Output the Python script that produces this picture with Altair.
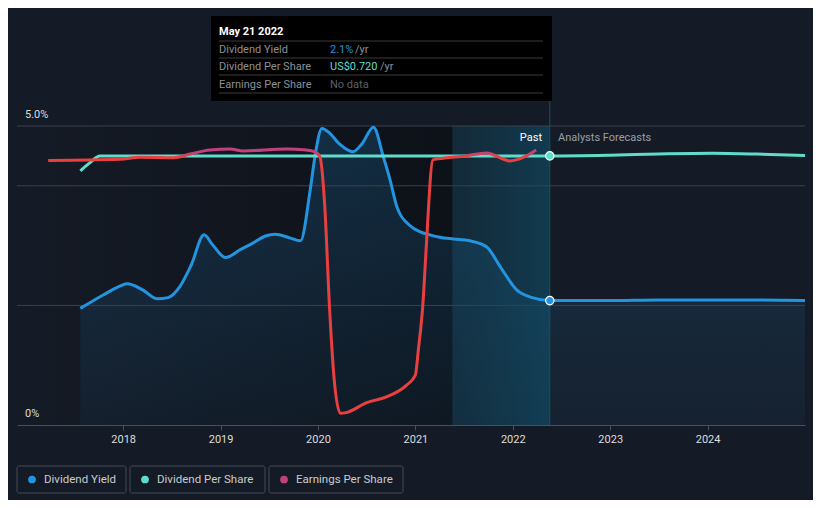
import altair as alt
import pandas as pd

# ---------------- data ----------------
yield_years = [2017.56, 2017.79, 2017.95, 2018.04, 2018.2, 2018.35, 2018.46, 2018.58, 2018.7,
               2018.83, 2018.92, 2019.05, 2019.2, 2019.34, 2019.46, 2019.56, 2019.71, 2019.82,
               2019.92, 2019.97, 2020.04, 2020.12, 2020.22, 2020.36, 2020.45, 2020.57, 2020.67,
               2020.74, 2020.81, 2020.94, 2021.05, 2021.15, 2021.25, 2021.39, 2021.56, 2021.73,
               2021.87, 2022.04, 2022.2, 2022.38, 2023.0, 2023.5, 2024.0, 2024.5, 2025.0]
yield_vals = [1.95, 2.17, 2.31, 2.36, 2.26, 2.11, 2.13, 2.31, 2.68,
              3.18, 3.01, 2.80, 2.93, 3.05, 3.16, 3.19, 3.13, 3.08,
              3.93, 4.5, 4.96, 4.88, 4.70, 4.57, 4.70, 4.98, 4.49,
              4.10, 3.65, 3.34, 3.23, 3.18, 3.14, 3.11, 3.08, 2.98,
              2.65, 2.26, 2.13, 2.08, 2.08, 2.09, 2.09, 2.09, 2.08]

dps_years = [2017.56, 2017.66, 2017.76, 2018.5, 2019.5, 2020.5, 2021.5, 2022.38, 2023.0, 2023.5, 2024.05, 2024.5, 2025.0]
dps_vals = [0.680, 0.702, 0.720, 0.720, 0.720, 0.720, 0.720, 0.720, 0.722, 0.725, 0.727, 0.725, 0.721]

eps_years = [2017.23, 2017.97, 2018.17, 2018.52, 2018.69, 2018.89, 2019.1, 2019.23, 2019.68, 2019.88,
             2019.97, 2020.02, 2020.07, 2020.12, 2020.17, 2020.23, 2020.29, 2020.5, 2020.71, 2020.91,
             2021.0, 2021.03, 2021.08, 2021.11, 2021.18, 2021.23, 2021.52, 2021.73, 2021.97, 2022.07, 2022.24]
eps_vals = [2.654, 2.666, 2.686, 2.682, 2.719, 2.759, 2.769, 2.75, 2.77, 2.76,
            2.74, 2.69, 2.19, 1.15, 0.42, 0.117, 0.124, 0.224, 0.284, 0.40,
            0.50, 0.75, 1.25, 1.76, 2.66, 2.67, 2.70, 2.73, 2.65, 2.67, 2.76]

year_ticks = [2018, 2019, 2020, 2021, 2022, 2023, 2024]
grid_vals = [2.0, 4.0, 5.0]
y_labels = ["0%", "5.0%"]
y_label_vals = [0.0, 5.0]

x_start, x_end = 2016.91, 2025.0
past_band_start, today = 2021.38, 2022.38
today_yield, today_dps = 2.08, 0.720

legend_names = ["Dividend Yield", "Dividend Per Share", "Earnings Per Share"]
legend_colors = ["#2394df", "#5fdccb", "#c2407f"]

tooltip_rows = ["Dividend Yield", "Dividend Per Share", "Earnings Per Share"]
tooltip_vals = ["2.1%", "US$0.720", "No data"]
tooltip_val_colors = ["#2394df", "#5fdccb", "#5c6068"]

# ---------------- styles ----------------
FONT = "Roboto"
BLUE, TEAL, RED, PINK = "#2394df", "#5fdccb", "#e8403f", "#c2407f"
W, H = 788, 299

xs = alt.Scale(domain=[x_start, x_end], nice=False, zero=False)
ys_y = alt.Scale(domain=[0, 5], nice=False, zero=True)
ys_d = alt.Scale(domain=[0, 0.8], nice=False, zero=True)
ys_e = alt.Scale(domain=[0, 3.0], nice=False, zero=True)

xenc = alt.X("year:Q", scale=xs,
             axis=alt.Axis(values=year_ticks, format="d", title=None, grid=False,
                           labelFont=FONT, labelFontSize=11, labelColor="#dddddd",
                           domainColor="#4a505a", tickColor="#4a505a", tickSize=5,
                           labelPadding=3, labelFlush=False))

yield_df = pd.DataFrame({"year": yield_years, "v": yield_vals})
dps_df = pd.DataFrame({"year": dps_years, "v": dps_vals})
eps_df = pd.DataFrame({"year": eps_years, "v": eps_vals})
one = pd.DataFrame({"a": [0]})

past_bg = alt.Chart(pd.DataFrame({"year": [x_start], "x2": [past_band_start]})).mark_rect(
    fill=alt.Gradient(gradient="linear", x1=0, x2=1, y1=0, y2=0,
                      stops=[alt.GradientStop(offset=0, color="rgba(6,9,13,0)"),
                             alt.GradientStop(offset=1, color="rgba(6,9,13,0.55)")])
).encode(x=xenc, x2="x2:Q", y=alt.value(0), y2=alt.value(H))

area = alt.Chart(yield_df).mark_area(
    interpolate="monotone",
    fill=alt.Gradient(gradient="linear", x1=0, x2=0, y1=0, y2=1,
                      stops=[alt.GradientStop(offset=0, color="rgba(35,148,223,0.20)"),
                             alt.GradientStop(offset=1, color="rgba(35,148,223,0.05)")])
).encode(x=xenc, y=alt.Y("v:Q", scale=ys_y, axis=None))

band = alt.Chart(pd.DataFrame({"year": [past_band_start], "x2": [today]})).mark_rect(
    fill=alt.Gradient(gradient="linear", x1=0, x2=1, y1=0, y2=0,
                      stops=[alt.GradientStop(offset=0, color="rgba(14,80,105,0.28)"),
                             alt.GradientStop(offset=1, color="rgba(14,90,120,0.5)")])
).encode(x=xenc, x2="x2:Q", y=alt.value(0), y2=alt.value(H))

grid = alt.Chart(pd.DataFrame({"v": grid_vals})).mark_rule(color="#3a414c", strokeWidth=1).encode(
    y=alt.Y("v:Q", scale=ys_y, axis=None), x=alt.value(0), x2=alt.value(W))

ylab = alt.Chart(pd.DataFrame({"v": y_label_vals, "t": y_labels})).mark_text(
    align="left", baseline="middle", dy=-11, font=FONT, fontSize=11, color="#dddddd"
).encode(y=alt.Y("v:Q", scale=ys_y, axis=None), x=alt.value(8), text="t:N")

today_rule = alt.Chart(pd.DataFrame({"year": [today]})).mark_rule(color="#1c4f63", strokeWidth=1).encode(
    x=xenc, y=alt.value(-26), y2=alt.value(H))

yield_line = alt.Chart(yield_df).mark_line(interpolate="monotone", color=BLUE, strokeWidth=3).encode(
    x=xenc, y=alt.Y("v:Q", scale=ys_y, axis=None))

dps_line = alt.Chart(dps_df).mark_line(interpolate="monotone", color=TEAL, strokeWidth=3).encode(
    x=xenc, y=alt.Y("v:Q", scale=ys_d, axis=None))

eps_line = alt.Chart(eps_df).mark_line(
    interpolate="monotone", strokeWidth=3,
    color=alt.Gradient(gradient="linear", x1=0, x2=0, y1=0, y2=1,
                       stops=[alt.GradientStop(offset=0, color=PINK),
                              alt.GradientStop(offset=0.012, color=PINK),
                              alt.GradientStop(offset=0.03, color=RED),
                              alt.GradientStop(offset=1, color=RED)])
).encode(x=xenc, y=alt.Y("v:Q", scale=ys_e, axis=None))

pt_yield = alt.Chart(pd.DataFrame({"year": [today], "v": [today_yield]})).mark_point(
    filled=True, size=70, fill=BLUE, stroke="white", strokeWidth=1.2, opacity=1
).encode(x=xenc, y=alt.Y("v:Q", scale=ys_y, axis=None))

pt_dps = alt.Chart(pd.DataFrame({"year": [today], "v": [today_dps]})).mark_point(
    filled=True, size=70, fill=TEAL, stroke="white", strokeWidth=1.2, opacity=1
).encode(x=xenc, y=alt.Y("v:Q", scale=ys_d, axis=None))

past_txt = alt.Chart(one).mark_text(align="right", baseline="middle", font=FONT, fontSize=11,
                                    color="#ffffff", text="Past").encode(
    x=alt.value(525), y=alt.value(12))
fc_txt = alt.Chart(one).mark_text(align="left", baseline="middle", font=FONT, fontSize=11,
                                  color="#9a9ea6", text="Analysts Forecasts").encode(
    x=alt.value(541), y=alt.value(12))

# ---------------- tooltip ----------------
tt_box = alt.Chart(one).mark_rect(fill="#000000").encode(
    x=alt.value(194), x2=alt.value(535), y=alt.value(-110), y2=alt.value(-25))
tt_title = alt.Chart(one).mark_text(align="left", baseline="middle", font=FONT, fontSize=11,
                                    fontWeight="bold", color="#ffffff", text="May 21 2022").encode(
    x=alt.value(202), y=alt.value(-94))
tt_sep = alt.Chart(pd.DataFrame({"py": [-85, -68, -51, -33]})).mark_rule(color="#3a3a3a").encode(
    x=alt.value(202), x2=alt.value(526), y=alt.Y("py:Q", scale=None))
tt_df = pd.DataFrame({"name": tooltip_rows, "val": tooltip_vals, "c": tooltip_val_colors,
                      "py": [-76, -59, -41]})
tt_names = alt.Chart(tt_df).mark_text(align="left", baseline="middle", font=FONT, fontSize=11,
                                      color="#8d9096").encode(
    x=alt.value(202), y=alt.Y("py:Q", scale=None), text="name:N")
tt_vals = alt.Chart(tt_df).mark_text(align="left", baseline="middle", font=FONT, fontSize=11).encode(
    x=alt.value(313), y=alt.Y("py:Q", scale=None), text="val:N",
    color=alt.Color("c:N", scale=None))
tt_units = alt.Chart(pd.DataFrame({"px": [338, 363], "py": [-76, -59], "u": ["/yr", "/yr"]})).mark_text(
    align="left", baseline="middle", font=FONT, fontSize=11, color="#8d9096").encode(
    x=alt.X("px:Q", scale=None), y=alt.Y("py:Q", scale=None), text="u:N")

# ---------------- legend ----------------
lg_df = pd.DataFrame({"name": legend_names, "c": legend_colors,
                      "bx": [0, 113, 252], "bx2": [109, 248, 386],
                      "dx": [15, 128, 267], "tx": [27, 140, 279]})
lg_box = alt.Chart(lg_df).mark_rect(fill="#151b26", stroke="#454b56", strokeWidth=1, cornerRadius=2).encode(
    x=alt.X("bx:Q", scale=None), x2="bx2:Q", y=alt.value(340), y2=alt.value(367))
lg_dot = alt.Chart(lg_df).mark_point(filled=True, size=60, opacity=1).encode(
    x=alt.X("dx:Q", scale=None), y=alt.value(353.5), color=alt.Color("c:N", scale=None))
lg_txt = alt.Chart(lg_df).mark_text(align="left", baseline="middle", font=FONT, fontSize=11.5,
                                    color="#c8cbd0").encode(
    x=alt.X("tx:Q", scale=None), y=alt.value(353.5), text="name:N")

chart = alt.layer(
    past_bg, area, band, grid, today_rule, yield_line, dps_line, eps_line, pt_yield, pt_dps,
    ylab, past_txt, fc_txt, tt_box, tt_title, tt_sep, tt_names, tt_vals, tt_units,
    lg_box, lg_dot, lg_txt
).resolve_scale(y="independent").properties(
    width=W, height=H,
    autosize=alt.AutoSizeParams(type="none"),
    padding={"left": 9, "top": 118, "right": 8, "bottom": 75},
    background="#151b26"
).configure_view(stroke=None)

chart.save("out.html", embed_options={"renderer": "svg", "actions": False})
